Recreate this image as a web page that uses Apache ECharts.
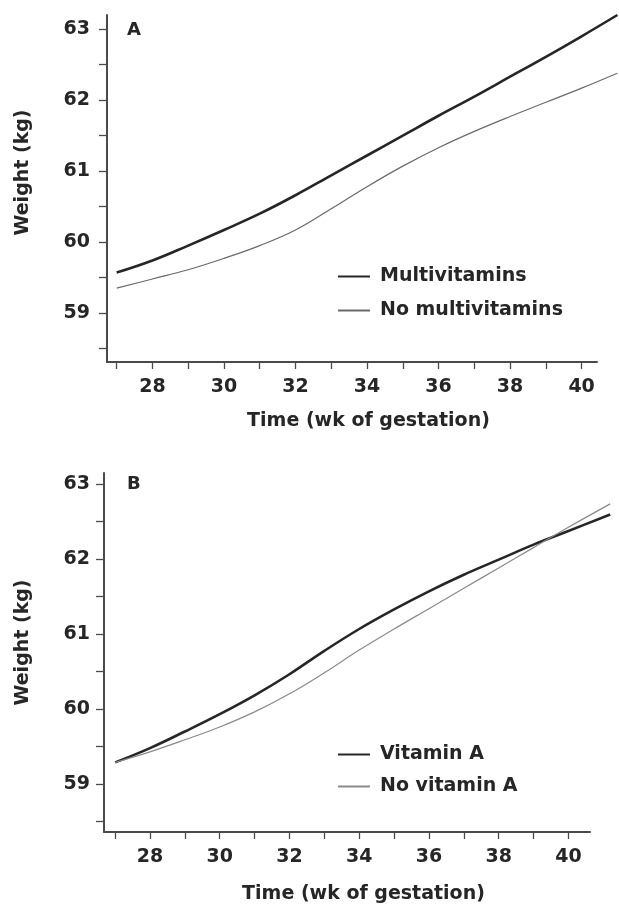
<!DOCTYPE html>
<html><head><meta charset="utf-8">
<script src="https://cdn.jsdelivr.net/npm/echarts@6/dist/echarts.min.js"></script>
<style>html,body{margin:0;padding:0;background:#fff}#c{width:619px;height:905px}</style>
</head><body><div id="c"></div>
<script>
// Panel A
const weeksA = [27, 28, 29, 30, 31, 32, 33, 34, 35, 36, 37, 38, 39, 40, 41];
const multivitamins   = [59.57, 59.74, 59.95, 60.17, 60.40, 60.66, 60.94, 61.22, 61.50, 61.78, 62.05, 62.33, 62.61, 62.90, 63.20];
const noMultivitamins = [59.35, 59.48, 59.61, 59.77, 59.95, 60.17, 60.47, 60.78, 61.07, 61.33, 61.56, 61.77, 61.97, 62.17, 62.38];
// Panel B
const weeksB = [27, 28, 29, 30, 31, 32, 33, 34, 35, 36, 37, 38, 39, 40, 41.2];
const vitaminA   = [59.31, 59.50, 59.72, 59.95, 60.20, 60.48, 60.79, 61.08, 61.34, 61.58, 61.80, 62.00, 62.20, 62.38, 62.60];
const noVitaminA = [59.31, 59.45, 59.61, 59.78, 59.98, 60.22, 60.50, 60.80, 61.08, 61.35, 61.62, 61.89, 62.16, 62.43, 62.74];
// Axis ticks & labels
const yTicks  = [58.5, 59, 59.5, 60, 60.5, 61, 61.5, 62, 62.5, 63];
const yLabels = [59, 60, 61, 62, 63];
const xTicks  = [27, 28, 29, 30, 31, 32, 33, 34, 35, 36, 37, 38, 39, 40];
const xLabels = [28, 30, 32, 34, 36, 38, 40];
const seriesNamesA = ['Multivitamins', 'No multivitamins'];
const seriesNamesB = ['Vitamin A', 'No vitamin A'];
const panelLabels = ['A', 'B'];
const xTitle = 'Time (wk of gestation)';
const yTitle = 'Weight (kg)';

const FONT = 'DejaVu Sans';
const TXT = '#262626';
const AX = '#4a4a4a';

// panel geometry: axis box and the wider area where the curves may run
const panels = [
  { left: 107, top: 15, width: 490, height: 347, dataWidth: 512, xMin: 26.73, xMax: 40.43, yMin: 58.31, yMax: 63.2 },
  { left: 104, top: 473, width: 486, height: 361, dataWidth: 515, xMin: 26.68, xMax: 40.62, yMin: 58.36, yMax: 63.15 }
];

function pairs(xs, ys) { return xs.map((x, i) => [x, ys[i]]); }

function xAxisCfg(gi, p, gap) {
  return {
    type: 'value', gridIndex: gi, min: p.xMin, max: p.xMax,
    name: xTitle, nameLocation: 'middle', nameGap: gap,
    nameTextStyle: { fontFamily: FONT, fontWeight: 'bold', fontSize: 19, color: TXT, padding: [0, 0, 0, 33] },
    axisLine: { show: true, lineStyle: { color: AX, width: 2 } },
    axisTick: { show: true, length: 7, customValues: xTicks, lineStyle: { color: AX, width: 1.3 } },
    axisLabel: { customValues: xLabels, margin: 16, fontFamily: FONT, fontWeight: 'bold', fontSize: 19, color: TXT },
    splitLine: { show: false }
  };
}
function yAxisCfg(gi, p, gap, shift, margin) {
  return {
    type: 'value', gridIndex: gi, min: p.yMin, max: p.yMax,
    name: yTitle, nameLocation: 'middle', nameGap: gap,
    nameTextStyle: { fontFamily: FONT, fontWeight: 'bold', fontSize: 19, color: TXT, padding: [0, 0, 0, shift] },
    axisLine: { show: true, lineStyle: { color: AX, width: 2 } },
    axisTick: { show: true, length: 8, customValues: yTicks, lineStyle: { color: AX, width: 1.3 } },
    axisLabel: { customValues: yLabels, margin: margin, fontFamily: FONT, fontWeight: 'bold', fontSize: 19, color: TXT },
    splitLine: { show: false }
  };
}
function hiddenX(gi, p) {
  return { type: 'value', gridIndex: gi, show: false, min: p.xMin,
           max: p.xMin + (p.xMax - p.xMin) * p.dataWidth / p.width, splitLine: { show: false } };
}
function hiddenY(gi, p) {
  return { type: 'value', gridIndex: gi, show: false, min: p.yMin, max: p.yMax, splitLine: { show: false } };
}
function lineSeries(name, ai, xs, ys, color, width) {
  return {
    name: name, type: 'line', xAxisIndex: ai, yAxisIndex: ai,
    data: pairs(xs, ys), smooth: 0.4, symbol: 'none', clip: false,
    lineStyle: { color: color, width: width }, itemStyle: { color: color },
    emphasis: { disabled: true }
  };
}
function legendCfg(names, top, gap) {
  return {
    data: names, orient: 'vertical', left: 337, top: top, padding: 0,
    itemWidth: 32, itemHeight: 14, itemGap: gap,
    itemStyle: { color: 'rgba(0,0,0,0)', borderWidth: 0, opacity: 0 },
    textStyle: { fontFamily: FONT, fontWeight: 'bold', fontSize: 19, color: TXT, padding: [0, 0, 0, 5] }
  };
}

const chart = echarts.init(document.getElementById('c'), null, { renderer: 'canvas' });
chart.setOption({
  backgroundColor: '#fff',
  animation: false,
  title: [
    { text: panelLabels[0], left: 122, top: 16, textStyle: { fontFamily: FONT, fontWeight: 'bold', fontSize: 18, color: TXT } },
    { text: panelLabels[1], left: 122, top: 470, textStyle: { fontFamily: FONT, fontWeight: 'bold', fontSize: 18, color: TXT } }
  ],
  grid: [
    { left: panels[0].left, top: panels[0].top, width: panels[0].width, height: panels[0].height },
    { left: panels[1].left, top: panels[1].top, width: panels[1].width, height: panels[1].height },
    { left: panels[0].left, top: panels[0].top, width: panels[0].dataWidth, height: panels[0].height },
    { left: panels[1].left, top: panels[1].top, width: panels[1].dataWidth, height: panels[1].height }
  ],
  xAxis: [xAxisCfg(0, panels[0], 50), xAxisCfg(1, panels[1], 53), hiddenX(2, panels[0]), hiddenX(3, panels[1])],
  yAxis: [yAxisCfg(0, panels[0], 74, 32, 17), yAxisCfg(1, panels[1], 71, 20, 14), hiddenY(2, panels[0]), hiddenY(3, panels[1])],
  legend: [legendCfg(seriesNamesA, 267, 15), legendCfg(seriesNamesB, 745, 13)],
  series: [
    lineSeries(seriesNamesA[0], 2, weeksA, multivitamins, '#262626', 2.6),
    lineSeries(seriesNamesA[1], 2, weeksA, noMultivitamins, '#6a6a6a', 1.2),
    lineSeries(seriesNamesB[0], 3, weeksB, vitaminA, '#262626', 2.6),
    lineSeries(seriesNamesB[1], 3, weeksB, noVitaminA, '#8a8a8a', 1.2)
  ]
});
</script></body></html>
